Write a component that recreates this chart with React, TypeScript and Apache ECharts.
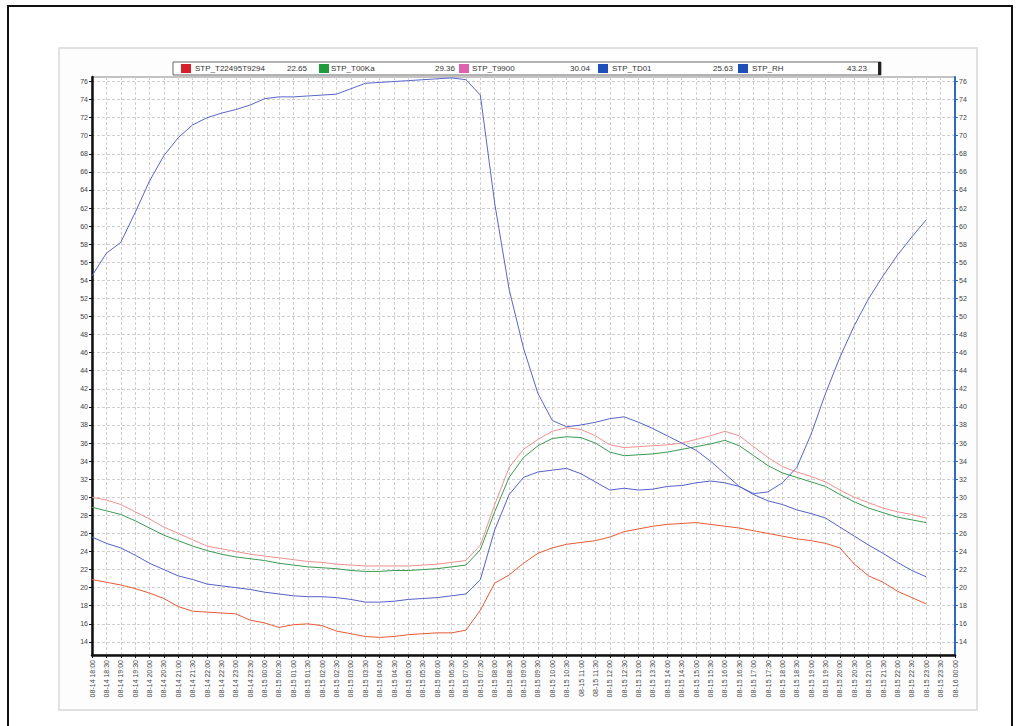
import React, { useEffect, useRef } from "react";
import * as echarts from "echarts";

// x categories: every 30 minutes from 08-14 18:00 to 08-16 00:00
const xLabels: string[] = [
  "08-14 18:00","08-14 18:30","08-14 19:00","08-14 19:30","08-14 20:00","08-14 20:30",
  "08-14 21:00","08-14 21:30","08-14 22:00","08-14 22:30","08-14 23:00","08-14 23:30",
  "08-15 00:00","08-15 00:30","08-15 01:00","08-15 01:30","08-15 02:00","08-15 02:30",
  "08-15 03:00","08-15 03:30","08-15 04:00","08-15 04:30","08-15 05:00","08-15 05:30",
  "08-15 06:00","08-15 06:30","08-15 07:00","08-15 07:30","08-15 08:00","08-15 08:30",
  "08-15 09:00","08-15 09:30","08-15 10:00","08-15 10:30","08-15 11:00","08-15 11:30",
  "08-15 12:00","08-15 12:30","08-15 13:00","08-15 13:30","08-15 14:00","08-15 14:30",
  "08-15 15:00","08-15 15:30","08-15 16:00","08-15 16:30","08-15 17:00","08-15 17:30",
  "08-15 18:00","08-15 18:30","08-15 19:00","08-15 19:30","08-15 20:00","08-15 20:30",
  "08-15 21:00","08-15 21:30","08-15 22:00","08-15 22:30","08-15 23:00","08-15 23:30",
  "08-16 00:00",
];

const yTicks: number[] = [14,16,18,20,22,24,26,28,30,32,34,36,38,40,42,44,46,48,50,52,54,56,58,60,62,64,66,68,70,72,74,76];

const seriesNames = ["STP_T22495T9294", "STP_T00Ka", "STP_T9900", "STP_TD01", "STP_RH"];
const legendValues = ["22.65", "29.36", "30.04", "25.63", "43.23"];

const redT: (number | null)[] = [
  20.9,20.6,20.3,19.9,19.4,18.8,17.9,17.4,17.3,17.2,17.1,16.4,16.1,15.6,15.9,16.0,15.8,15.2,14.9,14.6,
  14.5,14.6,14.8,14.9,15.0,15.0,15.3,17.5,20.5,21.4,22.7,23.8,24.4,24.8,25.0,25.2,25.6,26.2,26.5,26.8,
  27.0,27.1,27.2,27.0,26.8,26.6,26.3,26.0,25.7,25.4,25.2,24.9,24.4,22.6,21.3,20.6,19.6,18.9,18.2,null,null,
];
const greenT: (number | null)[] = [
  28.9,28.5,28.1,27.4,26.6,25.8,25.2,24.6,24.1,23.7,23.4,23.2,23.0,22.7,22.5,22.3,22.2,22.1,21.9,21.8,
  21.8,21.9,21.9,22.0,22.1,22.3,22.5,24.2,28.4,32.2,34.4,35.7,36.5,36.7,36.6,36.0,35.0,34.6,34.7,34.8,
  35.0,35.3,35.6,35.9,36.3,35.7,34.6,33.5,32.7,32.2,31.7,31.2,30.3,29.5,28.8,28.3,27.8,27.5,27.2,null,null,
];
const pinkT: (number | null)[] = [
  30.0,29.7,29.2,28.4,27.6,26.7,26.0,25.3,24.6,24.3,24.0,23.7,23.5,23.3,23.1,22.9,22.8,22.6,22.5,22.4,
  22.4,22.4,22.4,22.5,22.6,22.8,23.0,24.7,29.2,33.3,35.3,36.4,37.3,37.7,37.5,36.8,35.8,35.5,35.6,35.7,
  35.8,36.0,36.4,36.8,37.3,36.8,35.6,34.4,33.4,32.8,32.3,31.7,30.8,30.0,29.4,28.8,28.4,28.1,27.7,null,null,
];
const blueTD: (number | null)[] = [
  25.6,24.9,24.4,23.6,22.7,22.0,21.3,20.9,20.4,20.2,20.0,19.8,19.5,19.3,19.1,19.0,19.0,18.9,18.7,18.4,
  18.4,18.5,18.7,18.8,18.9,19.1,19.3,20.9,26.4,30.3,32.2,32.8,33.0,33.2,32.6,31.7,30.8,31.0,30.8,30.9,
  31.2,31.3,31.6,31.8,31.6,31.2,30.3,29.6,29.2,28.6,28.2,27.7,26.7,25.7,24.7,23.8,22.8,21.9,21.2,null,null,
];
const rh: (number | null)[] = [
  54.5,57.0,58.2,61.5,65.0,67.8,69.8,71.2,72.0,72.5,72.9,73.4,74.1,74.3,74.3,74.4,74.5,74.6,75.2,75.8,
  75.9,76.0,76.1,76.2,76.3,76.4,76.2,74.5,62.5,53.0,46.5,41.5,38.5,37.8,38.0,38.3,38.7,38.9,38.3,37.6,
  36.8,36.0,35.2,34.0,32.6,31.2,30.4,30.6,31.6,33.3,37.0,41.5,45.5,49.0,52.0,54.5,56.8,58.8,60.7,null,null,
];

const legendColors = ["#d8202a", "#1f9a3c", "#e060b0", "#1f4fb8", "#1f4fb8"];
const lineColors = ["#ea5a36", "#3c9a52", "#f09090", "#5560c8", "#5866c8"];

export default function App() {
  const ref = useRef<HTMLDivElement>(null);
  useEffect(() => {
    if (!ref.current) return;
    const chart = echarts.init(ref.current, null, { renderer: "svg" });
    const data = [redT, greenT, pinkT, blueTD, rh];

    const legendX = [
      { sq: 181, name: 195, val: 307 },
      { sq: 319, name: 331, val: 455 },
      { sq: 459, name: 472, val: 590 },
      { sq: 598, name: 612, val: 733 },
      { sq: 738, name: 752, val: 867 },
    ];
    const legendGraphics: any[] = [
      { type: "rect", shape: { x: 173, y: 62, width: 708, height: 13 }, style: { fill: "#ffffff", stroke: "#666", lineWidth: 1 }, z: 100 },
      { type: "rect", shape: { x: 878, y: 62, width: 3, height: 13 }, style: { fill: "#222" }, z: 101 },
    ];
    seriesNames.forEach((n, i) => {
      const p = legendX[i];
      legendGraphics.push({ type: "rect", shape: { x: p.sq, y: 64, width: 10, height: 9 }, style: { fill: legendColors[i] }, z: 101 });
      legendGraphics.push({ type: "text", x: p.name, y: 68.5, style: { text: n, fontSize: 8, fill: "#333", verticalAlign: "middle", fontFamily: "Liberation Sans" }, z: 101 });
      legendGraphics.push({ type: "text", x: p.val, y: 68.5, style: { text: legendValues[i], fontSize: 8, fill: "#333", align: "right", verticalAlign: "middle", fontFamily: "Liberation Sans" }, z: 101 });
    });

    const yAxisCommon = {
      type: "value",
      min: 12.55,
      max: 76.5,
      axisLabel: { customValues: yTicks, fontSize: 7, color: "#444", margin: 4, fontFamily: "Liberation Sans" },
      axisTick: { show: true, customValues: yTicks, length: 3, inside: false },
      splitLine: { show: true, lineStyle: { color: "#cfcfcf", type: [3, 2], width: 1 } },
    };

    chart.setOption({
      animation: false,
      backgroundColor: "#ffffff",
      graphic: [
        { type: "rect", shape: { x: 8, y: 6, width: 1004, height: 740 }, style: { fill: "none", stroke: "#111", lineWidth: 2 }, z: -10, silent: true },
        { type: "rect", shape: { x: 59, y: 48, width: 918, height: 662 }, style: { fill: "#fdfdfd", stroke: "#d8d8d8", lineWidth: 1.5 }, z: -9, silent: true },
        ...legendGraphics,
      ],
      grid: { left: 92, right: 64, top: 77, bottom: 71, show: true, backgroundColor: "#ffffff", borderColor: "#888", borderWidth: 1 },
      xAxis: {
        type: "category",
        data: xLabels,
        boundaryGap: false,
        axisLine: { show: true, lineStyle: { color: "#111", width: 2.5 } },
        axisTick: { show: true, length: 3, interval: 0 },
        axisLabel: { interval: 0, rotate: 90, fontSize: 7, color: "#444", margin: 5, fontFamily: "Liberation Sans" },
        splitLine: { show: true, interval: 0, lineStyle: { color: "#cfcfcf", type: [3, 2], width: 1 } },
      },
      yAxis: [
        { ...yAxisCommon, position: "left", axisLine: { show: true, lineStyle: { color: "#111", width: 2.5 } } },
        { ...yAxisCommon, position: "right", splitLine: { show: false }, axisLine: { show: true, lineStyle: { color: "#2a6cc0", width: 2 } }, axisLabel: { ...yAxisCommon.axisLabel, color: "#444" }, axisTick: { ...yAxisCommon.axisTick, lineStyle: { color: "#2a6cc0" } } },
      ],
      series: data.map((d, i) => ({
        name: seriesNames[i],
        type: "line",
        data: d,
        yAxisIndex: 0,
        symbol: "none",
        connectNulls: false,
        lineStyle: { color: lineColors[i], width: 1 },
        itemStyle: { color: lineColors[i] },
        z: 5,
      })),
    });
    return () => chart.dispose();
  }, []);
  return <div ref={ref} style={{ position: "absolute", left: 0, top: 0, width: 1019, height: 726 }} />;
}
